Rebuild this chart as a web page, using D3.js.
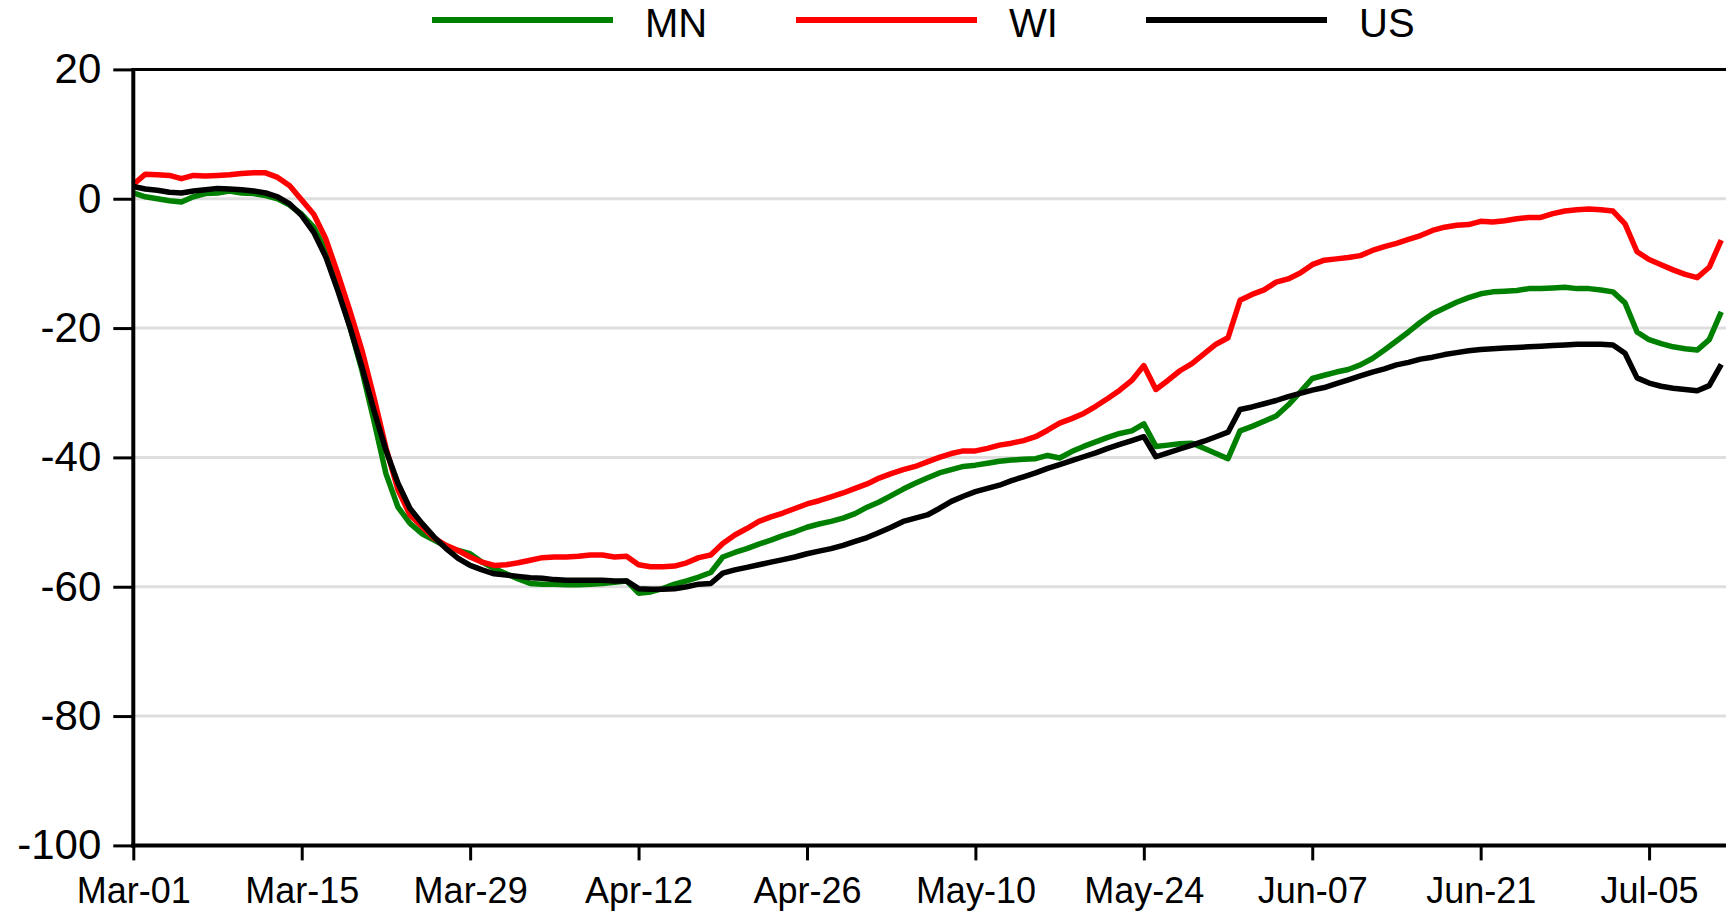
<!DOCTYPE html>
<html>
<head>
<meta charset="utf-8">
<script src="https://cdn.jsdelivr.net/npm/d3@7"></script>
<style>
  html, body { margin: 0; padding: 0; background: #fff; overflow: hidden; }
  svg { display: block; font-family: "Liberation Sans", Arial, sans-serif; }
</style>
</head>
<body>
<svg id="chart" width="1726" height="911"></svg>
<script>
// ---- Data (daily, starting 2020-03-01) ----
const startDate = "2020-03-01";
const seriesNames = ["MN", "WI", "US"];
const seriesColors = ["#008000", "#ff0000", "#000000"];

const MN = [0.9,0.3,0.0,-0.3,-0.5,0.3,0.8,0.9,1.2,0.9,0.8,0.5,0.0,-1.0,-2.4,-4.4,-8.0,-13.7,-19.8,-26.5,
  -34.3,-42.5,-47.7,-50.2,-51.8,-52.8,-53.8,-54.4,-54.9,-56.2,-57.2,-58.0,-58.8,-59.5,-59.6,-59.6,-59.7,-59.7,-59.6,-59.5,
  -59.3,-59.1,-61.0,-60.8,-60.3,-59.6,-59.1,-58.5,-57.8,-55.4,-54.7,-54.1,-53.4,-52.8,-52.1,-51.5,-50.8,-50.3,-49.9,-49.4,
  -48.7,-47.7,-46.9,-45.9,-44.9,-44.0,-43.2,-42.4,-41.9,-41.4,-41.2,-40.9,-40.6,-40.4,-40.3,-40.2,-39.7,-40.1,-39.1,-38.3,
  -37.6,-36.9,-36.3,-35.9,-34.8,-38.3,-38.1,-37.9,-37.8,-38.6,-39.4,-40.2,-35.9,-35.2,-34.4,-33.6,-31.9,-29.9,-27.8,-27.3,
  -26.8,-26.4,-25.7,-24.7,-23.4,-22.0,-20.6,-19.1,-17.8,-16.9,-16.0,-15.3,-14.7,-14.4,-14.3,-14.2,-13.9,-13.9,-13.8,-13.7,
  -13.9,-13.9,-14.1,-14.4,-16.1,-20.6,-21.8,-22.4,-22.9,-23.2,-23.4,-21.8,-17.5];

const WI = [2.2,3.8,3.7,3.6,3.1,3.6,3.5,3.6,3.7,3.9,4.0,4.0,3.3,2.0,-0.2,-2.4,-6.2,-11.6,-17.3,-23.4,
  -30.7,-38.5,-45.0,-48.9,-50.7,-52.5,-53.6,-54.4,-55.4,-56.2,-56.7,-56.6,-56.3,-55.9,-55.5,-55.4,-55.4,-55.3,-55.1,-55.1,
  -55.4,-55.3,-56.6,-56.9,-56.9,-56.8,-56.3,-55.5,-55.1,-53.3,-52.0,-51.0,-49.9,-49.2,-48.6,-47.9,-47.2,-46.7,-46.1,-45.5,
  -44.8,-44.1,-43.2,-42.5,-41.9,-41.4,-40.7,-40.0,-39.4,-39.0,-39.0,-38.6,-38.1,-37.8,-37.4,-36.8,-35.8,-34.7,-34.0,-33.2,
  -32.1,-30.9,-29.6,-28.1,-25.8,-29.5,-28.1,-26.6,-25.5,-24.0,-22.5,-21.5,-15.7,-14.8,-14.1,-12.9,-12.4,-11.5,-10.2,-9.5,
  -9.3,-9.1,-8.8,-8.0,-7.4,-6.9,-6.3,-5.7,-4.9,-4.4,-4.1,-4.0,-3.5,-3.6,-3.4,-3.1,-2.9,-2.9,-2.3,-1.9,
  -1.7,-1.6,-1.7,-1.9,-3.9,-8.2,-9.4,-10.2,-11.0,-11.7,-12.2,-10.6,-6.4];

const US = [1.9,1.5,1.3,1.0,0.9,1.2,1.4,1.6,1.5,1.4,1.2,0.9,0.3,-0.8,-2.6,-5.2,-9.0,-14.2,-19.8,-26.0,
  -32.7,-38.9,-44.0,-47.9,-50.2,-52.3,-54.1,-55.6,-56.7,-57.4,-58.0,-58.2,-58.4,-58.6,-58.7,-58.9,-59.0,-59.0,-59.0,-59.0,
  -59.1,-59.1,-60.3,-60.4,-60.4,-60.3,-60.0,-59.6,-59.5,-57.9,-57.4,-57.0,-56.6,-56.2,-55.8,-55.4,-54.9,-54.5,-54.1,-53.6,
  -53.0,-52.4,-51.6,-50.8,-49.9,-49.4,-48.9,-47.9,-46.8,-46.0,-45.3,-44.8,-44.3,-43.6,-43.0,-42.4,-41.7,-41.1,-40.5,-39.9,
  -39.3,-38.6,-38.0,-37.4,-36.8,-39.9,-39.3,-38.7,-38.1,-37.5,-36.8,-36.1,-32.6,-32.2,-31.7,-31.2,-30.6,-30.1,-29.6,-29.2,
  -28.6,-28.0,-27.4,-26.8,-26.3,-25.7,-25.3,-24.8,-24.5,-24.1,-23.8,-23.5,-23.3,-23.2,-23.1,-23.0,-22.9,-22.8,-22.7,-22.6,
  -22.5,-22.5,-22.5,-22.6,-23.9,-27.7,-28.5,-29.0,-29.3,-29.5,-29.7,-28.9,-25.6];

const xTickLabels = ["Mar-01","Mar-15","Mar-29","Apr-12","Apr-26","May-10","May-24","Jun-07","Jun-21","Jul-05"];
const yTickValues = [20, 0, -20, -40, -60, -80, -100];
const gridValues = [0, -20, -40, -60, -80];

// ---- Setup ----
const plotLeft = 133.3, plotTop = 69.4, plotBottom = 845.4, plotRight = 1726;
const svg = d3.select("#chart");

const parseTick = d3.utcParse("%Y-%b-%d");
const start = d3.utcParse("%Y-%m-%d")(startDate);
const dates = MN.map((_, i) => d3.utcDay.offset(start, i));
const pxPerDay = 12.03;
const lastDate = dates[dates.length - 1];

const x = d3.scaleUtc()
  .domain([start, lastDate])
  .range([plotLeft, plotLeft + (dates.length - 1) * pxPerDay]);

const y = d3.scaleLinear().domain([-100, 20]).range([plotBottom, plotTop]);

// gridlines
svg.append("g").selectAll("line").data(gridValues).join("line")
  .attr("x1", plotLeft).attr("x2", plotRight)
  .attr("y1", d => y(d)).attr("y2", d => y(d))
  .attr("stroke", "#dedede").attr("stroke-width", 3);

// top border
svg.append("line")
  .attr("x1", plotLeft).attr("x2", plotRight)
  .attr("y1", y(20)).attr("y2", y(20))
  .attr("stroke", "#000").attr("stroke-width", 3);

// y axis
const yAxis = d3.axisLeft(y).tickValues(yTickValues).tickSize(20).tickPadding(12).tickFormat(d3.format("d"));
const gy = svg.append("g").attr("transform", `translate(${plotLeft},0)`).call(yAxis);
gy.select(".domain").remove();
gy.selectAll(".tick line").attr("stroke", "#000").attr("stroke-width", 3);
gy.selectAll(".tick text").attr("font-size", 42).attr("fill", "#000")
  .attr("font-family", "Liberation Sans, Arial, sans-serif")
  .text(d => d < 0 ? "-" + Math.abs(d) : d);

// x axis
const tickDates = xTickLabels.map(s => parseTick("2020-" + s));
const xAxis = d3.axisBottom(x).tickValues(tickDates).tickSize(15).tickPadding(17)
  .tickFormat(d3.utcFormat("%b-%d"));
const gx = svg.append("g").attr("transform", `translate(0,${plotBottom})`).call(xAxis);
gx.select(".domain").remove();
gx.selectAll(".tick line").attr("stroke", "#000").attr("stroke-width", 3);
gx.selectAll(".tick text").attr("font-size", 36).attr("fill", "#000")
  .attr("font-family", "Liberation Sans, Arial, sans-serif");

// series lines (MN, WI, US order; US on top)
const allSeries = [MN, WI, US];
const line = d3.line().x((d, i) => x(dates[i])).y(d => y(d));
svg.append("g").selectAll("path").data(allSeries).join("path")
  .attr("d", d => line(d))
  .attr("fill", "none")
  .attr("stroke", (d, i) => seriesColors[i])
  .attr("stroke-width", 5.5)
  .attr("stroke-linejoin", "round")
  .attr("stroke-linecap", "butt");

// axis lines
svg.append("line")
  .attr("x1", plotLeft).attr("x2", plotLeft).attr("y1", plotTop - 1.5).attr("y2", plotBottom + 2)
  .attr("stroke", "#000").attr("stroke-width", 4);
svg.append("line")
  .attr("x1", plotLeft - 2).attr("x2", plotRight).attr("y1", plotBottom).attr("y2", plotBottom)
  .attr("stroke", "#000").attr("stroke-width", 4);

// legend
const legendX = [432, 796, 1146];
const lg = svg.append("g").selectAll("g").data(seriesNames).join("g")
  .attr("transform", (d, i) => `translate(${legendX[i]},0)`);
lg.append("line").attr("x1", 0).attr("x2", 181).attr("y1", 20).attr("y2", 20)
  .attr("stroke", (d, i) => seriesColors[i]).attr("stroke-width", 6);
lg.append("text").attr("x", 213).attr("y", 36.5).attr("font-size", 40).attr("fill", "#000")
  .text(d => d);
</script>
</body>
</html>
